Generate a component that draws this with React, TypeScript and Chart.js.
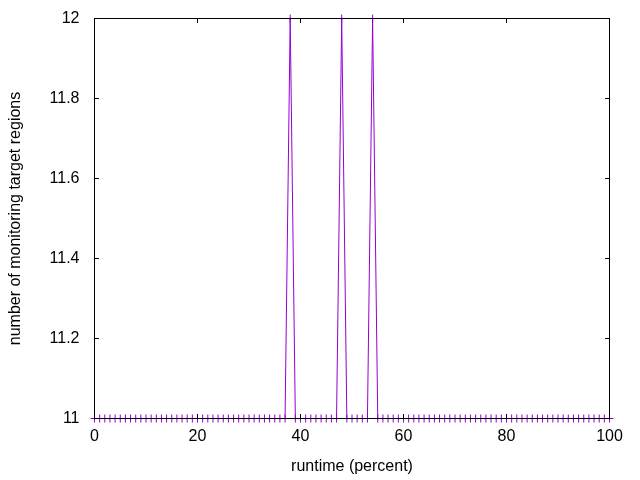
import React, { useEffect, useRef } from "react";
import { Chart, registerables } from "chart.js";

Chart.register(...registerables);

// runtime (percent)
const xValues = [
  0, 1, 2, 3, 4, 5, 6, 7, 8, 9,
  10, 11, 12, 13, 14, 15, 16, 17, 18, 19,
  20, 21, 22, 23, 24, 25, 26, 27, 28, 29,
  30, 31, 32, 33, 34, 35, 36, 37, 38, 39,
  40, 41, 42, 43, 44, 45, 46, 47, 48, 49,
  50, 51, 52, 53, 54, 55, 56, 57, 58, 59,
  60, 61, 62, 63, 64, 65, 66, 67, 68, 69,
  70, 71, 72, 73, 74, 75, 76, 77, 78, 79,
  80, 81, 82, 83, 84, 85, 86, 87, 88, 89,
  90, 91, 92, 93, 94, 95, 96, 97, 98, 99,
  100,
];

// number of monitoring target regions
const yValues = [
  11, 11, 11, 11, 11, 11, 11, 11, 11, 11,
  11, 11, 11, 11, 11, 11, 11, 11, 11, 11,
  11, 11, 11, 11, 11, 11, 11, 11, 11, 11,
  11, 11, 11, 11, 11, 11, 11, 11, 12, 11,
  11, 11, 11, 11, 11, 11, 11, 11, 12, 11,
  11, 11, 11, 11, 12, 11, 11, 11, 11, 11,
  11, 11, 11, 11, 11, 11, 11, 11, 11, 11,
  11, 11, 11, 11, 11, 11, 11, 11, 11, 11,
  11, 11, 11, 11, 11, 11, 11, 11, 11, 11,
  11, 11, 11, 11, 11, 11, 11, 11, 11, 11,
  11,
];

const xTicks = [0, 20, 40, 60, 80, 100];
const xTickLabels = ["0", "20", "40", "60", "80", "100"];
const yTicks = [11, 11.2, 11.4, 11.6, 11.8, 12];
const yTickLabels = ["11", "11.2", "11.4", "11.6", "11.8", "12"];

const xTitle = "runtime (percent)";
const yTitle = "number of monitoring target regions";

const LINE_COLOR = "#9400D3";
const FONT_FAMILY = "'Liberation Sans', Arial, sans-serif";

const framePlugin = {
  id: "gnuplotFrame",
  afterDatasetsDraw(chart: any) {
    const { ctx, chartArea, scales } = chart;
    const { left, right, top, bottom } = chartArea;
    const tl = 4.5;
    ctx.save();
    ctx.strokeStyle = "#000";
    ctx.lineWidth = 1;
    ctx.beginPath();
    xTicks.forEach((v) => {
      const px = Math.floor(scales.x.getPixelForValue(v)) + 0.5;
      ctx.moveTo(px, bottom);
      ctx.lineTo(px, bottom - tl);
      ctx.moveTo(px, top);
      ctx.lineTo(px, top + tl);
    });
    yTicks.forEach((v) => {
      const py = Math.floor(scales.y.getPixelForValue(v)) + 0.5;
      ctx.moveTo(left, py);
      ctx.lineTo(left + tl, py);
      ctx.moveTo(right, py);
      ctx.lineTo(right - tl, py);
    });
    ctx.stroke();
    ctx.strokeRect(left, top, right - left, bottom - top);
    ctx.restore();
  },
};

export default function App() {
  const canvasRef = useRef<HTMLCanvasElement | null>(null);

  useEffect(() => {
    const canvas = canvasRef.current;
    if (!canvas) return;
    const chart = new Chart(canvas, {
      type: "line",
      data: {
        datasets: [
          {
            data: xValues.map((x, i) => ({ x, y: yValues[i] })),
            borderColor: LINE_COLOR,
            backgroundColor: LINE_COLOR,
            borderWidth: 1,
            pointStyle: "cross",
            pointRadius: 4,
            pointHoverRadius: 4,
            pointBorderWidth: 1,
            pointBorderColor: LINE_COLOR,
            tension: 0,
            fill: false,
            clip: false,
          } as any,
        ],
      },
      options: {
        responsive: false,
        animation: false,
        events: [],
        layout: { padding: { top: 18.5, right: 30.5, left: 0, bottom: 0 } },
        plugins: {
          legend: { display: false },
          tooltip: { enabled: false },
        },
        scales: {
          x: {
            type: "linear",
            min: 0,
            max: 100,
            grid: { display: false, drawTicks: false },
            border: { display: false },
            afterBuildTicks: (s: any) => {
              s.ticks = xTicks.map((v) => ({ value: v }));
            },
            afterFit: (s: any) => {
              s.height = 61.5;
              s.paddingLeft = 0;
              s.paddingRight = 0;
            },
            ticks: {
              autoSkip: false,
              maxRotation: 0,
              padding: 8,
              color: "#000",
              font: { family: FONT_FAMILY, size: 16 },
              callback: (v: any) => {
                const i = xTicks.indexOf(Number(v));
                return i >= 0 ? xTickLabels[i] : "";
              },
            },
            title: {
              display: true,
              text: xTitle,
              color: "#000",
              font: { family: FONT_FAMILY, size: 16 },
              padding: { top: 0, bottom: 4 },
            },
          },
          y: {
            type: "linear",
            min: 11,
            max: 12,
            grid: { display: false, drawTicks: false },
            border: { display: false },
            afterBuildTicks: (s: any) => {
              s.ticks = yTicks.map((v) => ({ value: v }));
            },
            afterFit: (s: any) => {
              s.width = 94.5;
              s.paddingTop = 0;
              s.paddingBottom = 0;
            },
            ticks: {
              autoSkip: false,
              padding: 15,
              color: "#000",
              font: { family: FONT_FAMILY, size: 16 },
              callback: (v: any) => {
                const i = yTicks.findIndex((t) => Math.abs(t - Number(v)) < 1e-9);
                return i >= 0 ? yTickLabels[i] : "";
              },
            },
            title: {
              display: true,
              text: yTitle,
              color: "#000",
              font: { family: FONT_FAMILY, size: 16 },
              padding: { top: 6, bottom: 0 },
            },
          },
        },
      },
      plugins: [framePlugin],
    });
    return () => chart.destroy();
  }, []);

  return (
    <div style={{ position: "absolute", left: 0, top: 0, width: 640, height: 480, background: "#fff" }}>
      <canvas ref={canvasRef} width={640} height={480} style={{ width: 640, height: 480 }} />
    </div>
  );
}
